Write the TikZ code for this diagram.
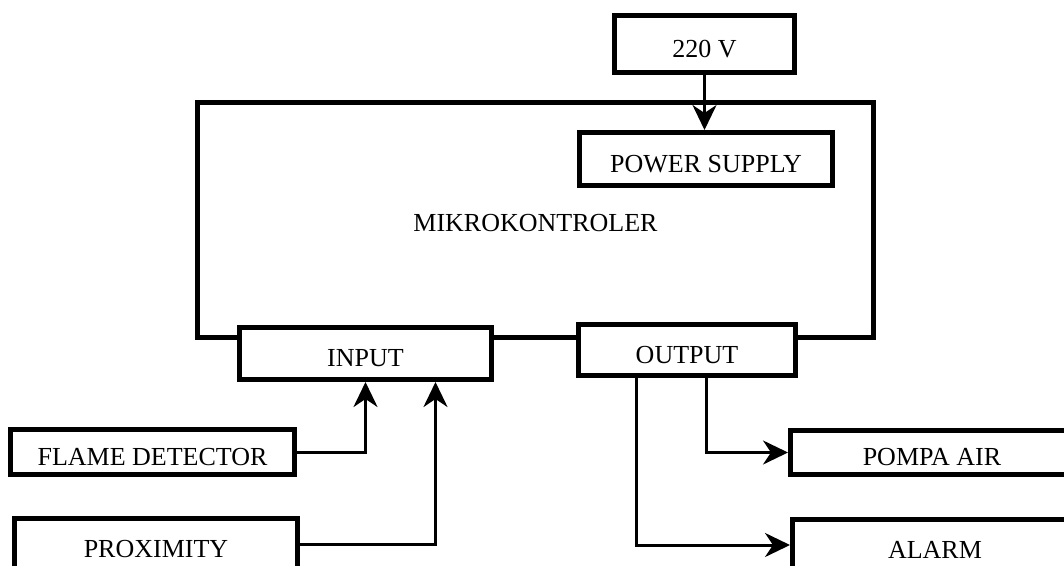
\documentclass[tikz,border=0pt]{standalone}
\usepackage{fontspec}
\setmainfont{Liberation Serif}
\usetikzlibrary{arrows.meta,positioning}

\begin{document}
\begin{tikzpicture}[x=1pt, y=-1pt,
    block/.style={rectangle, draw, line width=5pt, fill=white, inner sep=0pt, align=center, text height=26pt, text depth=0pt, font=\fontsize{26}{30}\selectfont},
    frame/.style={rectangle, draw, line width=4.5pt, inner sep=0pt, text height=22pt, text depth=0pt, font=\fontsize{26}{30}\selectfont},
    arrow/.style={-{Stealth[length=25pt, width=24pt, inset=8pt]}, line width=3pt}
]
\useasboundingbox (0,0) rectangle (1064,565);
\clip (0,0) rectangle (1064,565);

\node[frame, minimum width=676pt, minimum height=235pt] (mcu) at (535.5,220) {MIKROKONTROLER};

\node[block, minimum width=180pt, minimum height=57pt] (mains) at (704.5,44)  {220 V};
\node[block, minimum width=253pt, minimum height=53pt] (psu)   at (706,159)   {POWER SUPPLY};
\node[block, minimum width=252pt, minimum height=52pt] (inp)   at (365.5,353.5) {INPUT};
\node[block, minimum width=217pt, minimum height=51pt] (outp)  at (687,350)   {OUTPUT};

\node[block, minimum width=284pt, minimum height=45pt] (flame) at (152.5,452) {FLAME DETECTOR};
\node[block, minimum width=283pt, minimum height=52pt] (prox)  at (156,544)   {PROXIMITY};
\node[block, minimum width=283pt, minimum height=44pt] (pump)  at (932,452.5) {POMPA AIR};
\node[block, minimum width=285pt, minimum height=52pt] (alarm) at (935,545)   {ALARM};

\draw[arrow] (mains.south) -- (mains.south |- psu.north);
\draw[arrow] (flame.east) -| (inp.south);
\draw[arrow] (prox.east) -| ([xshift=70pt]inp.south);
\draw[arrow] ([xshift=19pt]outp.south) |- (pump.west);
\draw[arrow] ([xshift=-51pt]outp.south) |- (alarm.west);
\end{tikzpicture}
\end{document}
